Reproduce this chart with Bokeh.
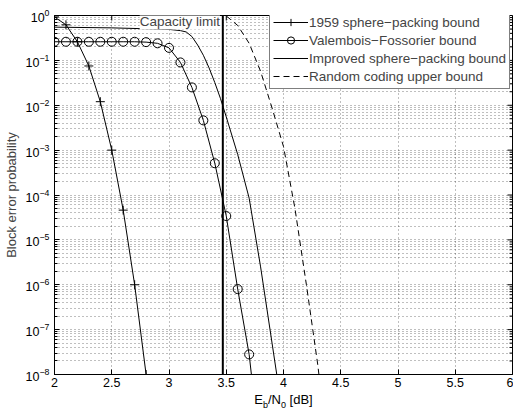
from bokeh.plotting import figure
from bokeh.layouts import column
from bokeh.models import Legend, LegendItem, Label, Span, FixedTicker, Range1d
from bokeh.core.properties import value
from bokeh.embed import file_html
from bokeh.resources import INLINE

# ---- data ----
x_sp1959 = [2.0, 2.1, 2.2, 2.3, 2.4, 2.5, 2.6, 2.7, 2.8]
y_sp1959 = [0.93, 0.62, 0.26, 0.075, 0.012, 1.0e-3, 4.6e-5, 1.0e-6, 1.0e-8]

x_vf = [2.0, 2.1, 2.2, 2.3, 2.4, 2.5, 2.6, 2.7, 2.8, 2.9, 3.0, 3.1, 3.2, 3.3, 3.4, 3.5, 3.6, 3.7, 3.8]
y_vf = [0.26, 0.26, 0.26, 0.26, 0.26, 0.26, 0.26, 0.26, 0.255, 0.24, 0.19, 0.09, 0.025, 0.0046,
        5.1e-4, 3.4e-5, 8.0e-7, 2.8e-8, 1.5e-10]

x_isp = [2.0, 2.5, 3.0, 3.1, 3.15, 3.2, 3.25, 3.3, 3.35, 3.4, 3.45, 3.5, 3.6, 3.7, 3.8, 3.9, 4.0]
y_isp = [0.55, 0.53, 0.49, 0.46, 0.43, 0.34, 0.22, 0.13, 0.068, 0.032, 0.014, 0.0055,
         8.0e-4, 8.5e-5, 2.5e-6, 5.0e-8, 1.0e-9]

x_rc = [3.5, 3.6, 3.7, 3.8, 3.9, 4.0, 4.1, 4.2, 4.3, 4.4]
y_rc = [0.98, 0.6, 0.24, 0.057, 0.0087, 1.2e-3, 5.0e-5, 1.0e-6, 1.6e-8, 1.0e-10]

capacity_x = 3.47

x_ticks = [2, 2.5, 3, 3.5, 4, 4.5, 5, 5.5, 6]
y_major = [10.0 ** e for e in range(-8, 1)]
y_minor = [k * 10.0 ** e for e in range(-8, 0) for k in range(2, 10)]

labels = ["1959 sphere\u2212packing bound", "Valembois\u2212Fossorier bound",
          "Improved sphere\u2212packing bound", "Random coding upper bound"]

FONT = "Liberation Sans"
X0, X1 = 2, 6
Y0, Y1 = 1e-8, 1

W = 513
ML, MR = 54, 1
MT, MB = 15, 17
H = 391
FRAME_W = W - ML - MR
FRAME_H = H - MT - MB

p = figure(width=W, height=H, x_range=Range1d(X0, X1), y_range=Range1d(Y0, Y1),
           y_axis_type="log", output_backend="svg", toolbar_location=None,
           min_border_left=ML, min_border_right=MR, min_border_top=MT, min_border_bottom=MB)
p.outline_line_color = "black"
p.outline_line_width = 1
p.background_fill_color = "white"

# axes
p.xaxis.ticker = FixedTicker(ticks=x_ticks)
p.yaxis.ticker = FixedTicker(ticks=y_major, minor_ticks=y_minor)
for ax in (p.xaxis[0], p.yaxis[0]):
    ax.major_label_text_font = FONT
    ax.major_label_text_font_size = "12.5px"
    ax.major_label_text_color = "black"
    ax.major_tick_in = 5
    ax.major_tick_out = 0
    ax.minor_tick_in = 3
    ax.minor_tick_out = 0
    ax.axis_line_color = "black"
p.xaxis.minor_tick_line_color = None
p.xaxis.major_label_standoff = 3
p.yaxis.major_label_standoff = 5
p.yaxis.axis_label = "Block error probability"
p.yaxis.axis_label_text_font = FONT
p.yaxis.axis_label_text_font_style = "normal"
p.yaxis.axis_label_text_font_size = "13px"
p.yaxis.axis_label_standoff = 4

# ticks on the right and top edges (box on)
px_per_x = FRAME_W / (X1 - X0)
px_per_dec = FRAME_H / 8.0
p.segment(x0=[X1 - 5 / px_per_x] * len(y_major), x1=[X1] * len(y_major), y0=y_major, y1=y_major,
          line_color="black", line_width=1)
p.segment(x0=[X1 - 3 / px_per_x] * len(y_minor), x1=[X1] * len(y_minor), y0=y_minor, y1=y_minor,
          line_color="black", line_width=1)
p.segment(x0=x_ticks, x1=x_ticks, y0=[Y1] * len(x_ticks),
          y1=[Y1 * 10 ** (-5 / px_per_dec)] * len(x_ticks), line_color="black", line_width=1)

# grid
p.xgrid.ticker = FixedTicker(ticks=x_ticks)
for g in (p.xgrid[0], p.ygrid[0]):
    g.grid_line_color = "black"
    g.grid_line_alpha = 0.5
    g.grid_line_dash = "1 3"
p.ygrid.minor_grid_line_color = "black"
p.ygrid.minor_grid_line_alpha = 0.5
p.ygrid.minor_grid_line_dash = "1 3"

# curves
l1 = p.line(x_sp1959, y_sp1959, line_color="black", line_width=1)
m1 = p.scatter(x_sp1959, y_sp1959, marker="cross", size=9, line_color="black", line_width=1)
l2 = p.line(x_vf, y_vf, line_color="black", line_width=1)
m2 = p.scatter(x_vf, y_vf, marker="circle", size=9, line_color="black", fill_color=None, line_width=1)
l3 = p.line(x_isp, y_isp, line_color="black", line_width=1)
l4 = p.line(x_rc, y_rc, line_color="black", line_width=1, line_dash="6 4")

p.add_layout(Span(location=capacity_x, dimension="height", line_color="black", line_width=2))
p.add_layout(Label(x=capacity_x - 0.025, y=0.72, text="Capacity limit", text_align="right",
                   text_baseline="middle", text_font=FONT, text_font_size="13.5px",
                   background_fill_color="white"))

legend = Legend(items=[LegendItem(label=labels[0], renderers=[l1, m1]),
                       LegendItem(label=labels[1], renderers=[l2, m2]),
                       LegendItem(label=labels[2], renderers=[l3]),
                       LegendItem(label=labels[3], renderers=[l4])],
                location=(215, 285), glyph_width=35, glyph_height=18, label_height=18,
                label_width=190, label_standoff=1, spacing=0, padding=3, margin=0,
                label_text_font=FONT, label_text_font_size="13.5px",
                border_line_color="black", border_line_width=1,
                background_fill_color="white", background_fill_alpha=1)
p.add_layout(legend)

# x-axis label with subscripts, in a strip aligned with the frame
QH = 17
q = figure(width=W, height=QH, x_range=Range1d(X0, X1), y_range=Range1d(0, QH),
           output_backend="svg", toolbar_location=None,
           min_border_left=ML, min_border_right=MR, min_border_top=0, min_border_bottom=0)
q.axis.visible = False
q.grid.visible = False
q.outline_line_color = None
parts = ["E", "b", "/N", "0", "[dB]"]
sizes = ["13px", "9px", "13px", "9px", "13px"]
rise = [9, 4, 9, 4, 9]
widths = [8.7, 5.0, 13.0, 8.6, 23.1]
off = -sum(widths) / 2
for t, fs, r, w in zip(parts, sizes, rise, widths):
    q.text(x=[(X0 + X1) / 2], y=[r], text=[t], x_offset=off, text_font=value(FONT),
           text_font_size=value(fs), text_align="left", text_baseline="middle",
           text_color="black")
    off += w

layout = column(p, q, spacing=0)
open("out.html", "w").write(file_html(layout, INLINE))
